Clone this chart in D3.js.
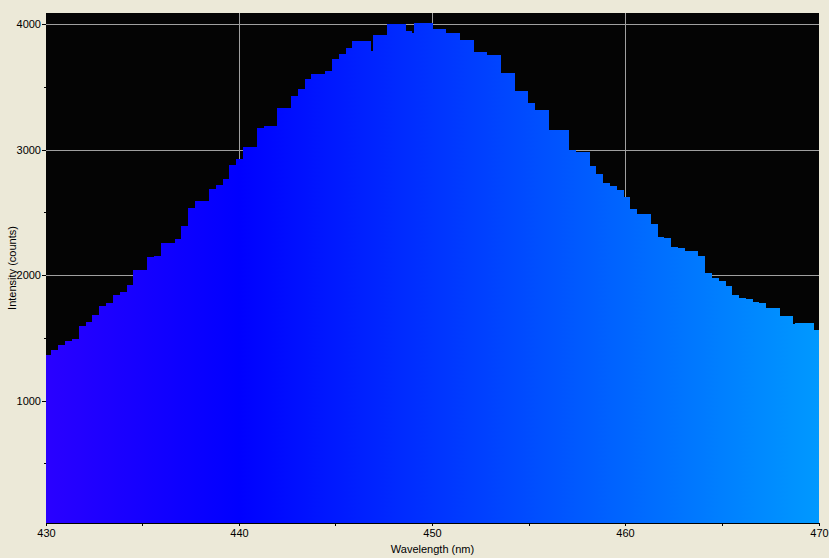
<!DOCTYPE html>
<html>
<head>
<meta charset="utf-8">
<script src="https://cdn.jsdelivr.net/npm/d3@7"></script>
<style>
  html, body { margin: 0; padding: 0; background: #ECE9D8; }
  svg { display: block; }
  text { font-family: "Liberation Sans", Arial, sans-serif; font-size: 11px; fill: #000; }
</style>
</head>
<body>
<svg id="chart" width="829" height="558"></svg>
<script>
// Left edge wavelength (nm) of each step of the spectrum
const wavelengths = [
  430.00, 430.26, 430.62, 430.98, 431.35, 431.71, 432.07, 432.38, 432.74, 433.10,
  433.47, 433.83, 434.19, 434.50, 435.23, 435.59, 435.95, 436.68, 436.99, 437.35,
  437.71, 438.43, 438.80, 439.16, 439.47, 439.83, 440.19, 440.92, 441.28, 441.95,
  442.68, 443.04, 443.40, 443.71, 444.44, 444.80, 445.16, 445.52, 445.83, 446.82,
  446.92, 447.65, 448.63, 448.94, 449.04, 450.03, 450.70, 451.42, 452.15, 452.82,
  453.54, 454.27, 454.94, 455.30, 456.03, 457.06, 457.43, 458.15, 458.46, 458.82,
  459.19, 459.55, 459.91, 460.22, 460.58, 461.31, 461.67, 461.98, 462.34, 462.70,
  463.07, 463.74, 464.10, 464.46, 464.83, 465.19, 465.50, 465.86, 466.22, 466.58,
  466.89, 467.26, 467.98, 468.66, 468.76, 469.74
];
// Intensity (counts) for each step
const intensities = [
  1364, 1404, 1444, 1476, 1492, 1596, 1627, 1683, 1755, 1779,
  1843, 1867, 1922, 2042, 2145, 2153, 2257, 2289, 2393, 2536,
  2592, 2688, 2720, 2767, 2879, 2927, 3022, 3174, 3190, 3333,
  3428, 3484, 3565, 3604, 3628, 3723, 3763, 3811, 3867, 3787,
  3914, 4002, 3946, 3930, 4010, 3962, 3930, 3875, 3779, 3755,
  3612, 3468, 3373, 3317, 3158, 2998, 2982, 2870, 2807, 2735,
  2711, 2679, 2623, 2528, 2488, 2408, 2304, 2296, 2225, 2217,
  2193, 2153, 2018, 1978, 1954, 1914, 1843, 1819, 1811, 1787,
  1779, 1739, 1675, 1611, 1619, 1564
];
const xDomain = [430, 470];
const yDomain = [25, 4090];
const xMajorTicks = [430, 440, 450, 460, 470];
const xMinorTicks = [435, 445, 455, 465];
const yMajorTicks = [1000, 2000, 3000, 4000];
const yMinorTicks = [500, 1500, 2500, 3500];
const xGrid = [440, 450, 460];
const yGrid = [2000, 3000, 4000];
// Spectral colour stops for the fill
const colorStopNm = [430, 440, 470];
const colorStopColor = ["#2a00ff", "#0000ff", "#0099ff"];
const xTitle = "Wavelength (nm)";
const yTitle = "Intensity (counts)";

(function () {
const pL = 46, pR = 819, pT = 13, pB = 523;
const svg = d3.select("#chart");

const x = d3.scaleLinear().domain(xDomain).range([pL, pR]);
const y = d3.scaleLinear().domain(yDomain).range([pB, pT]);
const px = d => Math.floor(x(d)) + 0.5;
const py = d => Math.round(y(d)) + 0.5;

// plot background
svg.append("rect").attr("x", pL).attr("y", pT)
  .attr("width", pR - pL).attr("height", pB - pT)
  .attr("fill", "#040404");

// gradient
const defs = svg.append("defs");
const grad = defs.append("linearGradient").attr("id", "spec")
  .attr("gradientUnits", "userSpaceOnUse")
  .attr("x1", x(xDomain[0])).attr("x2", x(xDomain[1]))
  .attr("y1", 0).attr("y2", 0);
colorStopNm.forEach((nm, i) => {
  grad.append("stop")
    .attr("offset", (nm - xDomain[0]) / (xDomain[1] - xDomain[0]))
    .attr("stop-color", colorStopColor[i]);
});

// grid
const grid = svg.append("g").attr("stroke", "#a0a0a0").attr("stroke-width", 1)
  .attr("shape-rendering", "crispEdges");
grid.selectAll(".gx").data(xGrid).join("line").attr("class", "gx")
  .attr("x1", px).attr("x2", px)
  .attr("y1", pT).attr("y2", pB);
grid.selectAll(".gy").data(yGrid).join("line").attr("class", "gy")
  .attr("y1", py).attr("y2", py)
  .attr("x1", pL - 4).attr("x2", pR);

// data
const data = wavelengths.map((w, i) => ({ w, v: intensities[i] }));
data.push({ w: xDomain[1], v: intensities[intensities.length - 1] });

const area = d3.area()
  .x(d => Math.round(x(d.w)))
  .y0(pB)
  .y1(d => Math.round(y(d.v)))
  .curve(d3.curveStepAfter);

svg.append("path").datum(data)
  .attr("d", area)
  .attr("fill", "url(#spec)")
  .attr("shape-rendering", "crispEdges");

// x axis
const xAxisG = svg.append("g").attr("transform", `translate(0,${pB})`);
const xAxis = d3.axisBottom(x).tickValues(xMajorTicks).tickSize(3).tickPadding(3)
  .tickFormat(d3.format("d"));
xAxisG.call(xAxis);
xAxisG.attr("font-family", null).attr("font-size", null);
xAxisG.selectAll(".tick").attr("transform", d => `translate(${px(d)},0)`);
xAxisG.select(".domain").attr("d", `M${pL},0.5H${pR + 1}`);
xAxisG.selectAll("path, line").attr("stroke", "#000").attr("shape-rendering", "crispEdges");
xAxisG.selectAll("text").attr("fill", "#000").attr("dy", "0.71em").attr("y", 6);
xAxisG.selectAll(".minor").data(xMinorTicks).join("line").attr("class", "minor")
  .attr("x1", px).attr("x2", px)
  .attr("y1", 0).attr("y2", 3).attr("stroke", "#000").attr("shape-rendering", "crispEdges");

// y axis
const yAxisG = svg.append("g").attr("transform", `translate(${pL},0)`);
const yAxis = d3.axisLeft(y).tickValues(yMajorTicks).tickSize(4).tickPadding(1)
  .tickFormat(d3.format("d"));
yAxisG.call(yAxis);
yAxisG.attr("font-family", null).attr("font-size", null);
yAxisG.select(".domain").remove();
yAxisG.selectAll(".tick").attr("transform", d => `translate(0,${py(d)})`);
yAxisG.selectAll("line").attr("stroke", "#000").attr("shape-rendering", "crispEdges");
yAxisG.selectAll("text").attr("fill", "#000");
yAxisG.selectAll(".minor").data(yMinorTicks).join("line").attr("class", "minor")
  .attr("y1", py).attr("y2", py)
  .attr("x1", -2).attr("x2", 0).attr("stroke", "#000").attr("shape-rendering", "crispEdges");

// titles
svg.append("text").attr("x", (pL + pR) / 2).attr("y", 553)
  .attr("text-anchor", "middle").text(xTitle);
svg.append("text").attr("transform", `translate(16,${(pT + pB) / 2}) rotate(-90)`)
  .attr("text-anchor", "middle").text(yTitle);
})();
</script>
</body>
</html>
